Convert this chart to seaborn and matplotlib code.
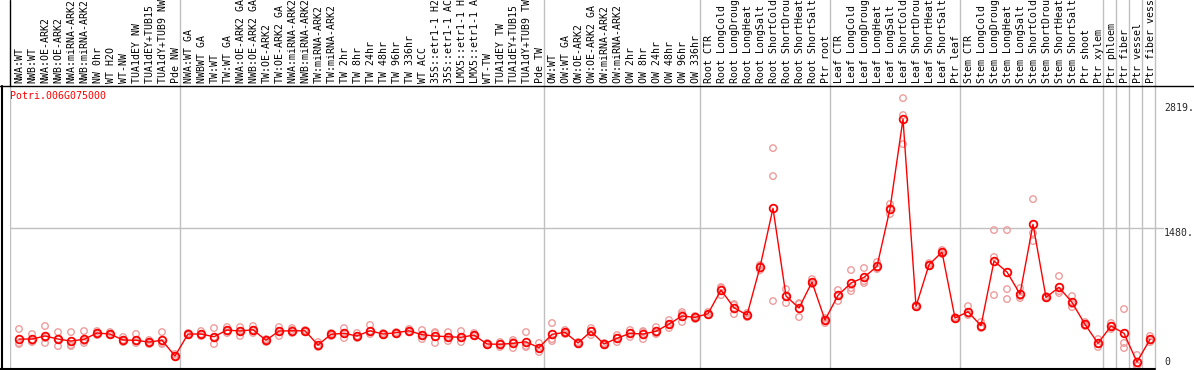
import numpy as np
import pandas as pd
import seaborn as sns
import matplotlib
matplotlib.use("Agg")
import matplotlib.pyplot as plt
from matplotlib.lines import Line2D

gene = "Potri.006G075000"

# sample labels, one per column
labels = [
    "NWA:WT", "NWB:WT", "NWA:OE-ARK2", "NWB:OE-ARK2", "NWA:miRNA-ARK2",
    "NWB:miRNA-ARK2", "NW 0hr", "WT H2O", "WT-NW", "TUA1dEY NW",
    "TUA1dEY+TUB15 NW", "TUA1dY+TUB9 NW", "Pde NW",
    "NWA:WT GA", "NWBWT GA", "TW:WT", "TW:WT GA", "NWA:OE-ARK2 GA",
    "NWB:OE-ARK2 GA", "TW:OE-ARK2", "TW:OE-ARK2 GA", "NWA:miRNA-ARK2 GA",
    "NWB:miRNA-ARK2 GA", "TW:miRNA-ARK2", "TW:miRNA-ARK2 GA", "TW 2hr",
    "TW 8hr", "TW 24hr", "TW 48hr", "TW 96hr", "TW 336hr", "WT ACC",
    "35S::etr1-1 H2O", "35S::etr1-1 ACC", "LMX5::etr1-1 H2O",
    "LMX5::etr1-1 ACC", "WT-TW", "TUA1dEY TW", "TUA1dEY+TUB15 TW",
    "TUA1dY+TUB9 TW", "Pde TW",
    "OW:WT", "OW:WT GA", "OW:OE-ARK2", "OW:OE-ARK2 GA", "OW:miRNA-ARK2",
    "OW:miRNA-ARK2 GA", "OW 2hr", "OW 8hr", "OW 24hr", "OW 48hr", "OW 96hr",
    "OW 336hr",
    "Root CTR", "Root LongCold", "Root LongDrought", "Root LongHeat",
    "Root LongSalt", "Root ShortCold", "Root ShortDrought", "Root ShortHeat",
    "Root ShortSalt", "Ptr root",
    "Leaf CTR", "Leaf LongCold", "Leaf LongDrought", "Leaf LongHeat",
    "Leaf LongSalt", "Leaf ShortCold", "Leaf ShortDrought", "Leaf ShortHeat",
    "Leaf ShortSalt", "Ptr leaf",
    "Stem CTR", "Stem LongCold", "Stem LongDrought", "Stem LongHeat",
    "Stem LongSalt", "Stem ShortCold", "Stem ShortDrought", "Stem ShortHeat",
    "Stem ShortSalt", "Ptr shoot", "Ptr xylem",
    "Ptr phloem", "Ptr fiber", "Ptr vessel", "Ptr fiber vessel",
]
group_sizes = [13, 28, 12, 10, 10, 11, 1, 1, 1, 1]

# mean expression per sample
means = [
    289, 289, 322, 289, 268, 286, 354, 343, 279, 276, 257, 276, 107,
    343, 343, 314, 386, 375, 389, 276, 375, 378, 378, 225, 340, 351, 322,
    378, 343, 357, 378, 336, 322, 314, 308, 332, 236, 233, 243, 260, 196,
    340, 361, 247, 372, 236, 297, 351, 343, 372, 450, 536, 522,
    561, 815, 625, 547, 1061, 1691, 750, 622, 900, 493,
    758, 890, 951, 1069, 1686, 2648, 640, 1086, 1222, 515,
    582, 432, 1126, 1008, 772, 1519, 736, 844, 683, 447, 243,
    429, 351, 43, 286,
]

# replicate values per sample
reps = [
    [397, 247, 236], [343, 257, 268], [429, 300, 247], [364, 214, 289],
    [364, 225, 214], [375, 247, 268], [375, 332, 354], [364, 332, 343],
    [311, 257, 279], [343, 247, 268], [279, 236, 257], [364, 236, 247],
    [129, 96, 107],
    [354, 332, 343], [375, 322, 343], [407, 236, 311], [418, 354, 375],
    [418, 322, 375], [429, 354, 386], [289, 257, 279], [418, 322, 375],
    [407, 354, 386], [386, 364, 375], [257, 204, 225], [354, 322, 343],
    [407, 300, 354], [354, 300, 322], [440, 343, 375], [354, 332, 343],
    [364, 343, 354], [397, 364, 375], [386, 289, 332], [354, 247, 364],
    [364, 268, 311], [375, 257, 300], [354, 322, 332], [247, 225, 236],
    [257, 204, 236], [279, 193, 257], [364, 204, 214], [247, 150, 193],
    [461, 268, 289], [386, 343, 364], [257, 236, 247], [407, 332, 375],
    [247, 225, 236], [332, 257, 300], [386, 311, 354], [375, 289, 364],
    [418, 343, 354], [493, 407, 450], [579, 472, 557], [536, 504, 525],
    [579, 547, 557], [847, 761, 836], [665, 557, 654], [568, 525, 547],
    [1083, 1029, 1072], [2337, 2037, 697], [825, 675, 750], [665, 525, 675],
    [933, 879, 890], [515, 461, 493],
    [815, 697, 761], [1029, 836, 804], [1051, 911, 890], [1115, 1051, 1040],
    [1737, 1630, 1694], [2873, 2691, 2380], [654, 632, 643],
    [1104, 1072, 1083], [1244, 1201, 1222], [525, 504, 515],
    [643, 547, 557], [472, 407, 418], [1458, 1169, 761], [1458, 825, 718],
    [836, 729, 750], [1790, 1426, 1340], [750, 729, 729], [965, 783, 804],
    [750, 632, 665], [472, 429, 440], [289, 204, 236],
    [461, 397, 429], [611, 247, 193], [118, 10, 0], [322, 257, 279],
]

scale_marks = [2819, 1480]

pos = np.arange(len(labels))
df_mean = pd.DataFrame({"pos": pos, "value": means})
df_rep = pd.DataFrame({
    "pos": np.repeat(pos, [len(r) for r in reps]),
    "value": [v for r in reps for v in r],
})

sns.set_style("white")
plt.rcParams['font.family'] = ['DejaVu Sans Mono']

W, H = 1194, 370
grey = "#c0c0c0"
fs = 7.1
fig = plt.figure(figsize=(W / 100, H / 100), dpi=100)
ax = fig.add_axes([10 / W, 1 / H, (W - 10) / W, 283 / H])
hd = fig.add_axes([10 / W, 284 / H, (W - 10) / W, 86 / H], sharex=ax)

hd.set_ylim(0, 1)
for a in (ax, hd):
    a.axis("off")

# group separators
ends = np.cumsum(group_sizes) - 1
for e in ends:
    for a in (ax, hd):
        a.axvline(e + 0.38, color=grey, lw=1, zorder=0)
ax.axvline(-9 / 13, color=grey, lw=1, zorder=0)
ax.axhline(scale_marks[1], xmin=0, xmax=(1163 - 10) / (W - 10), color=grey, lw=1, zorder=0)

sns.scatterplot(data=df_rep, x="pos", y="value", ax=ax, marker="o",
                facecolors="none", edgecolor="#ee9c9c", s=22, linewidth=1,
                zorder=2, legend=False)
sns.lineplot(data=df_mean, x="pos", y="value", ax=ax, color="red", lw=1,
             marker="o", markersize=5.5, markerfacecolor="none",
             markeredgecolor="red", markeredgewidth=1.3, zorder=3)
ax.set_xlim(-9 / 13, 1175 / 13)
ax.set_ylim(-32, 3003)

for i, lab in enumerate(labels):
    hd.text(i + 0.05, 0.03, lab, rotation=90, ha="center", va="bottom",
            fontsize=fs, color="black")

ax.text(-9 / 13, 2900, gene, color="red", fontsize=fs, ha="left", va="center")

ytr = ax.get_yaxis_transform()
xt = (1164 - 10) / (W - 10)
for v in scale_marks:
    ax.text(xt, v, f"{v}.", transform=ytr, ha="left", va="top", fontsize=fs)
ax.text(xt, 40, "0", transform=ytr, ha="left", va="center", fontsize=fs)

# frame lines
fig.add_artist(Line2D([0, 1], [284 / H] * 2, transform=fig.transFigure, color="black", lw=1))
fig.add_artist(Line2D([10 / W] * 2, [284 / H, 1], transform=fig.transFigure, color="black", lw=1))
fig.add_artist(Line2D([0, 1155 / W], [1.5 / H] * 2, transform=fig.transFigure, color="black", lw=1.5))
fig.add_artist(Line2D([1.5 / W] * 2, [1.5 / H, 284 / H], transform=fig.transFigure, color="black", lw=1.5))

fig.savefig("out.png", dpi=100)
